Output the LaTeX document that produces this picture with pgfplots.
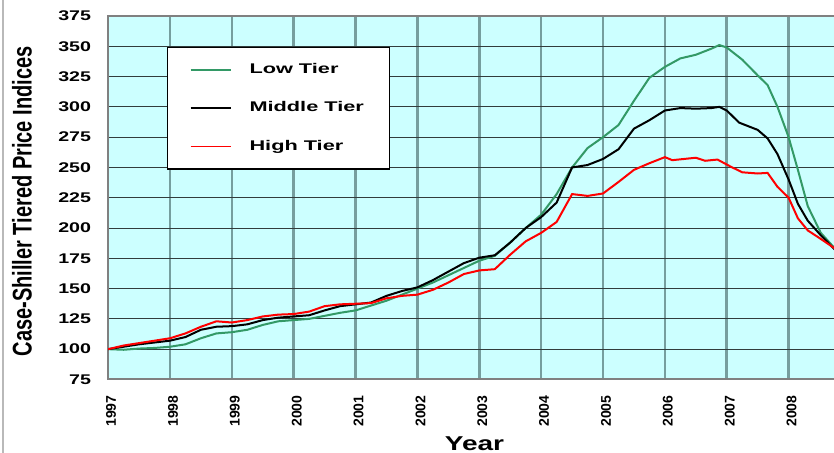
\documentclass[border=0pt]{standalone}
\usepackage{fontspec}
\setmainfont{Liberation Sans}
\newfontfamily\widefont{Liberation Sans}[FakeStretch=1.4]
\newfontfamily\legfont{Liberation Sans}[FakeStretch=1.55]
\usepackage{pgfplots}
\pgfplotsset{compat=1.18}

\definecolor{plotbg}{RGB}{204,255,255}
\definecolor{vgrid}{RGB}{118,158,158}
\definecolor{hgrid}{RGB}{50,60,60}
\definecolor{lowtier}{RGB}{51,153,102}
\definecolor{hightier}{RGB}{255,0,0}

\begin{document}
\begin{tikzpicture}
\begin{axis}[
  name=ax,
  scale only axis,
  width=363pt, height=181.5pt,
  xmin=1997, xmax=2008.75,
  ymin=75, ymax=375,
  xtick={1997,1998,...,2008},
  ytick={75,100,...,375},
  major tick length=0pt,
  grid=major,
  x grid style={color=vgrid, line width=1.3pt},
  y grid style={color=hgrid, line width=0.5pt},
  axis line style={color=gray, line width=1pt},
  axis background/.style={fill=plotbg},
  /pgf/number format/assume math mode=true,
  x tick label style={/pgf/number format/1000 sep=, xshift=1.5pt, yshift=-4.5pt,
    rotate=90, anchor=east, font=\bfseries\fontsize{7}{8}\selectfont},
  y tick label style={xshift=-5pt, font=\widefont\bfseries\fontsize{7}{8}\selectfont},
  xlabel={Year},
  xlabel style={at={(axis description cs:0.504,0)}, anchor=north, yshift=-25pt,
    font=\widefont\bfseries\fontsize{10}{12}\selectfont},
  ylabel={\scalebox{1}[1.35]{Case-Shiller Tiered Price Indices}},
  ylabel style={at={(axis description cs:0,0.49)}, anchor=center, yshift=43pt,
    font=\bfseries\fontsize{10}{12}\selectfont},
  legend style={at={(0.0813,0.915)}, anchor=north west, draw=black, fill=white,
    line width=0.6pt, inner xsep=11pt, inner ysep=6pt, row sep=8.5pt,
    font=\legfont\bfseries\fontsize{7}{8}\selectfont,
    /tikz/every odd column/.append style={column sep=7pt}},
  legend cell align=left,
  legend image code/.code={\draw[#1, line width=0.8pt] (0pt,0pt) -- (20pt,0pt);},
]
% Low tier
\addplot[lowtier, line width=1pt] table {
x y
1997.00 100
1997.25 99.5
1997.50 100.5
1997.75 101
1998.00 102
1998.25 104
1998.50 109
1998.75 113
1999.00 114
1999.25 116
1999.50 120
1999.75 123
2000.00 124
2000.25 125
2000.50 127.5
2000.75 130
2001.00 132
2001.25 136
2001.50 140
2001.75 145
2002.00 150
2002.25 155
2002.50 161
2002.75 167
2003.00 173
2003.25 177
2003.50 188
2003.75 200
2004.00 211
2004.25 228
2004.50 250
2004.75 266
2005.00 275
2005.25 285
2005.50 305
2005.75 324
2006.00 333
2006.25 340
2006.50 343
2006.75 348
2006.88 351
2007.00 349
2007.25 339
2007.50 326
2007.66 318
2007.82 300
2008.00 275
2008.15 248
2008.31 218
2008.52 196
2008.75 183
};
\addlegendentry{Low Tier}
% Middle tier
\addplot[black, line width=1pt] table {
x y
1997.00 100
1997.25 102
1997.50 104
1997.75 105.5
1998.00 107
1998.25 110
1998.50 116
1998.75 118.5
1999.00 119
1999.25 120.5
1999.50 124
1999.75 126
2000.00 127
2000.25 128
2000.50 132
2000.75 135.5
2001.00 137
2001.25 138.5
2001.50 144
2001.75 148
2002.00 151
2002.25 157
2002.50 164
2002.75 171
2003.00 175.5
2003.25 177.5
2003.50 188
2003.75 200
2004.00 209
2004.25 221
2004.50 250
2004.75 252
2005.00 257
2005.25 265
2005.50 282
2005.75 289
2006.00 297
2006.25 299
2006.50 298.5
2006.75 299
2006.88 300
2007.00 297
2007.20 287
2007.50 281
2007.66 274
2007.82 261
2008.00 240
2008.15 220
2008.31 206
2008.52 194
2008.75 182
};
\addlegendentry{Middle Tier}
% High tier
\addplot[hightier, line width=1pt] table {
x y
1997.00 100
1997.25 103
1997.50 105
1997.75 107
1998.00 109
1998.25 113
1998.50 118.5
1998.75 123
1999.00 122
1999.25 124
1999.50 127
1999.75 128.5
2000.00 129
2000.25 131
2000.50 135.5
2000.75 137
2001.00 137.5
2001.25 138
2001.50 142
2001.75 144
2002.00 145
2002.25 149
2002.50 155
2002.75 162
2003.00 165
2003.25 166
2003.50 178
2003.75 189
2004.00 196
2004.25 205
2004.50 228
2004.75 226.5
2005.00 228.5
2005.25 238
2005.50 248
2005.75 253.5
2006.00 258.5
2006.12 256
2006.50 258
2006.65 255.5
2006.85 256.5
2007.07 250.5
2007.25 246
2007.50 245
2007.66 245.5
2007.82 234
2008.00 225
2008.15 208
2008.31 198
2008.52 191
2008.75 183
};
\addlegendentry{High Tier}
\end{axis}
% chart-area frame edge on the left
\draw[gray!55, line width=1pt] ([shift={(-52.5pt,-40pt)}]ax.south west) -- ([shift={(-52.5pt,10pt)}]ax.north west);
\pgfresetboundingbox
\path[use as bounding box] ([shift={(-54pt,-36.5pt)}]ax.south west) rectangle ([shift={(-0.5pt,8pt)}]ax.north east);
\end{tikzpicture}
\end{document}
